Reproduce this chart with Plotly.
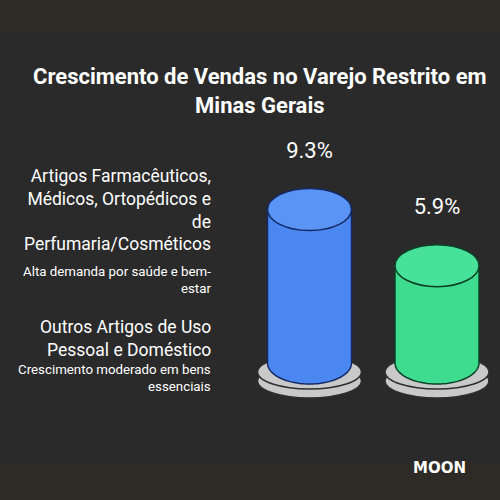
import textwrap
import numpy as np
import plotly.graph_objects as go

# ---------------- data ----------------
title_text = "Crescimento de Vendas no Varejo Restrito em Minas Gerais"
categories = [
    "Artigos Farmacêuticos, Médicos, Ortopédicos e de Perfumaria/Cosméticos",
    "Outros Artigos de Uso Pessoal e Doméstico",
]
descriptions = [
    "Alta demanda por saúde e bem-estar",
    "Crescimento moderado em bens essenciais",
]
values = [9.3, 5.9]
value_labels = ["9.3%", "5.9%"]
brand = "MOON"

# ---------------- style ----------------
body_colors = ["#4a87f1", "#3ddc8f"]
top_colors = ["#5a94f5", "#47e199"]
edge_colors = ["#142a66", "#0b4026"]
base_fill = "#c9c9c9"
base_edge = "#2f2f2f"
panel_bg = "#2a2a2a"
band_bg = "#2e2a25"

W = H = 500
PX_PER_UNIT = 16.5        # vertical pixels per data unit
BASE_PIX = 363            # pixel row of value 0
X0_PIX, X_STEP = 309.5, 127.5

y_range = [(BASE_PIX - H) / PX_PER_UNIT, BASE_PIX / PX_PER_UNIT]
x_range = [-X0_PIX / X_STEP, (W - X0_PIX) / X_STEP]

rx = 42 / X_STEP
ry = 21 / PX_PER_UNIT
base_rx = 52 / X_STEP
base_ry = 17 / PX_PER_UNIT
upper_disc_c = -9 / PX_PER_UNIT
lower_disc_c = -18 / PX_PER_UNIT
label_off = 57 / PX_PER_UNIT

shapes = []
# background bands (textured border imitation)
shapes.append(dict(type="rect", xref="paper", yref="paper", x0=0, x1=1, y0=1 - 32 / H, y1=1,
                   fillcolor=band_bg, line_width=0, layer="below"))
shapes.append(dict(type="rect", xref="paper", yref="paper", x0=0, x1=1, y0=0, y1=38 / H,
                   fillcolor=band_bg, line_width=0, layer="below"))

t = np.linspace(np.pi, 2 * np.pi, 60)
for i, v in enumerate(values):
    c = i
    # base discs
    for cy in (lower_disc_c, upper_disc_c):
        shapes.append(dict(type="circle", xref="x", yref="y",
                           x0=c - base_rx, x1=c + base_rx, y0=cy - base_ry, y1=cy + base_ry,
                           fillcolor=base_fill, line=dict(color=base_edge, width=1.5), layer="below"))
    # body
    xs = c + rx * np.cos(t)
    ys = ry * np.sin(t)
    pts = [f"M{c - rx},{v}", f"L{c - rx},0"]
    pts += [f"L{x:.5f},{y:.5f}" for x, y in zip(xs, ys)]
    pts += [f"L{c + rx},{v}", "Z"]
    shapes.append(dict(type="path", xref="x", yref="y", path=" ".join(pts),
                       fillcolor=body_colors[i], line=dict(color=edge_colors[i], width=1.5), layer="below"))
    # top ellipse
    shapes.append(dict(type="circle", xref="x", yref="y",
                       x0=c - rx, x1=c + rx, y0=v - ry, y1=v + ry,
                       fillcolor=top_colors[i], line=dict(color=edge_colors[i], width=1.5), layer="below"))

fig = go.Figure()
fig.add_trace(go.Scatter(
    x=list(range(len(values))), y=[v + label_off for v in values],
    mode="text", text=value_labels,
    textfont=dict(family="Roboto", size=22, color="white"),
    hoverinfo="skip", showlegend=False,
))

annotations = []
annotations.append(dict(
    xref="paper", yref="paper", x=259.5 / W, y=1 - 91 / H, xanchor="center", yanchor="middle",
    text="<b>" + "<br>".join(textwrap.wrap(title_text, 44)) + "</b>",
    showarrow=False, align="center",
    font=dict(family="Roboto", size=22, color="white"),
))

cat_centers = [209.5, 338]
desc_centers = [279.5, 378]
for i in range(len(categories)):
    annotations.append(dict(
        xref="paper", yref="paper", x=213 / W, y=1 - cat_centers[i] / H,
        xanchor="right", yanchor="middle", align="right", showarrow=False,
        text="<br>".join(textwrap.wrap(categories[i], 22)),
        font=dict(family="Roboto", size=17.5, color="white"),
    ))
    annotations.append(dict(
        xref="paper", yref="paper", x=213 / W, y=1 - desc_centers[i] / H,
        xanchor="right", yanchor="middle", align="right", showarrow=False,
        text="<br>".join(textwrap.wrap(descriptions[i], 29)),
        font=dict(family="Roboto", size=13.3, color="white"),
    ))

annotations.append(dict(
    xref="paper", yref="paper", x=439 / W, y=1 - 468 / H, xanchor="center", yanchor="middle",
    text="<b>" + brand + "</b>", showarrow=False,
    font=dict(family="DejaVu Sans", size=15, color="white"),
))

fig.update_layout(
    width=W, height=H,
    margin=dict(l=0, r=0, t=0, b=0),
    paper_bgcolor=panel_bg, plot_bgcolor=panel_bg,
    xaxis=dict(range=x_range, visible=False, fixedrange=True),
    yaxis=dict(range=y_range, visible=False, fixedrange=True),
    shapes=shapes, annotations=annotations,
    showlegend=False,
)

fig.write_html(
    "out.html",
    config={"displayModeBar": False},
    post_script="document.body.style.margin='0';document.body.style.padding='0';",
)
